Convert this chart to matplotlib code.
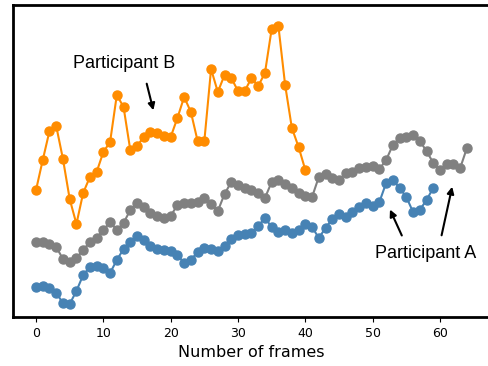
import matplotlib
matplotlib.use("Agg")
import matplotlib.pyplot as plt

# values (arbitrary units, no y scale shown)
part_b = [130, 160, 189, 194, 161, 121, 96, 127, 143, 148,
          168, 178, 225, 213, 170, 174, 183, 188, 187, 184,
          183, 202, 223, 208, 179, 179, 251, 228, 245, 242,
          229, 229, 242, 234, 247, 291, 294, 235, 192, 173,
          150]
middle = [78, 78, 76, 73, 61, 58, 62, 70, 78, 82,
          90, 98, 90, 97, 110, 117, 113, 107, 104, 102,
          104, 115, 117, 117, 118, 122, 116, 109, 126, 138,
          135, 132, 130, 127, 122, 138, 140, 136, 132, 127,
          124, 123, 143, 146, 142, 140, 147, 148, 152, 153,
          154, 151, 160, 175, 182, 183, 185, 179, 169, 157,
          150, 156, 156, 152, 172]
part_a = [33, 34, 32, 27, 17, 16, 29, 45, 53, 54,
          52, 47, 60, 71, 78, 84, 80, 74, 71, 70,
          69, 65, 57, 60, 68, 72, 71, 69, 74, 81,
          85, 86, 87, 94, 102, 93, 88, 90, 87, 90,
          96, 93, 82, 92, 101, 106, 103, 108, 113, 117,
          114, 118, 137, 140, 132, 123, 108, 110, 120, 132]
frame_ticks = [0, 10, 20, 30, 40, 50, 60]

fig = plt.figure(figsize=(4.88, 3.66), dpi=100)
ax = fig.add_axes([13/488, 49/366, 476/488, 312/366])

ax.plot(range(len(middle)), middle, '-o', color='gray', lw=1.5, ms=6.5)
ax.plot(range(len(part_a)), part_a, '-o', color='steelblue', lw=1.5, ms=6.5)
ax.plot(range(len(part_b)), part_b, '-o', color='darkorange', lw=1.5, ms=6.5)

ax.set_xlim(-3.42, 67.28)
ax.set_ylim(3, 315)
ax.set_yticks([])
ax.set_xticks(frame_ticks)
ax.tick_params(axis='x', labelsize=9, length=3.5)
ax.set_xlabel('Number of frames', fontsize=11.5, labelpad=4)
for s in ax.spines.values():
    s.set_linewidth(2)

font = 'Liberation Sans'
ax.text(13.07, 257, 'Participant B', fontsize=13, family=font,
        ha='center', va='center')
ax.text(57.9, 66, 'Participant A', fontsize=13, family=font,
        ha='center', va='center')

arrow = dict(arrowstyle='-|>', color='black', lw=1.5, mutation_scale=10)
ax.annotate('', xy=(17.53, 207), xytext=(16.34, 239), arrowprops=arrow)
ax.annotate('', xy=(52.4, 113), xytext=(54.5, 82), arrowprops=arrow)
ax.annotate('', xy=(61.9, 136), xytext=(60.15, 82), arrowprops=arrow)

fig.savefig('out.png', dpi=100)
